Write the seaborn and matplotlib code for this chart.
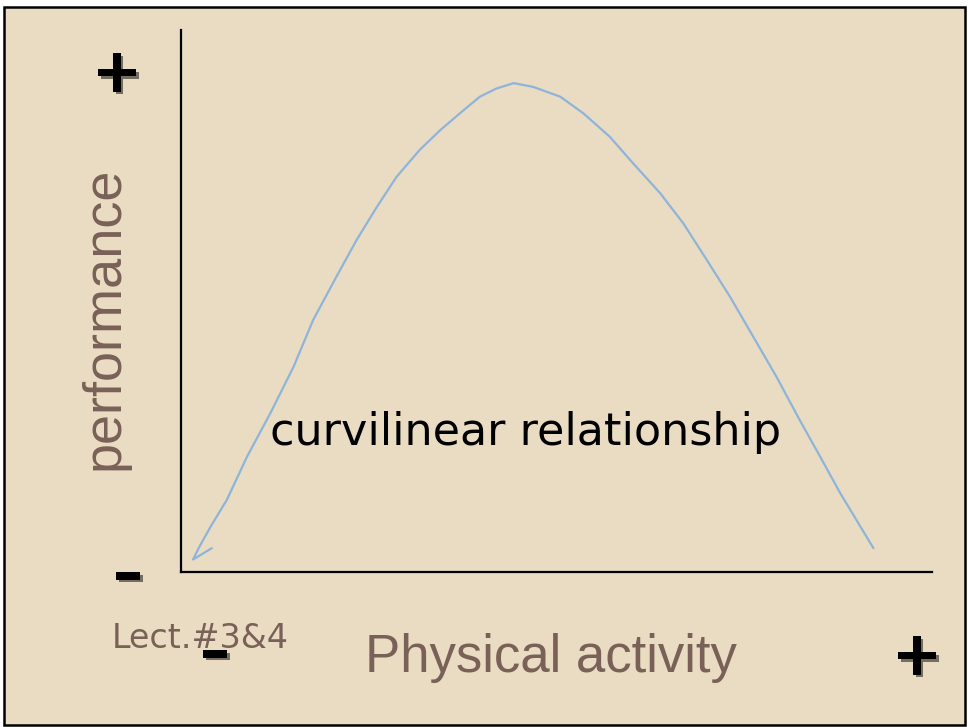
import matplotlib
matplotlib.use("Agg")
import matplotlib.pyplot as plt
import matplotlib.patheffects as pe
from matplotlib.patches import Rectangle
import seaborn as sns

# hand-drawn curve (activity 0-100, performance 0-100)
activity = [4.1, 1.6, 2.5, 4.0, 6.1, 8.8, 11.9, 15.0, 17.6, 20.7, 23.4,
            26.1, 28.7, 31.8, 34.5, 37.2, 39.8, 42.0, 44.3, 46.9, 50.5,
            53.6, 57.1, 60.2, 63.8, 66.9, 70.0, 73.1, 76.2, 79.3, 82.4,
            85.1, 87.8, 92.2]
performance = [4.4, 2.3, 4.8, 8.5, 13.3, 21.3, 29.3, 37.9, 46.5, 54.5, 61.3,
               67.4, 72.9, 77.9, 81.5, 84.7, 87.7, 89.2, 90.2, 89.5, 87.7,
               84.6, 80.3, 75.4, 69.9, 64.3, 57.6, 50.8, 43.4, 36.0, 28.0,
               21.3, 14.5, 4.4]

x_label = "Physical activity"
y_label = "performance"
note = "curvilinear relationship"
footer = "Lect.#3&4"

W, H = 968, 727
bg = "#E9DCC3"
brown = "#7A6157"

sns.set_style("white")
fig = plt.figure(figsize=(W / 100, H / 100), dpi=100)
fig.patch.set_facecolor("white")


def fx(x):
    return x / W


def fy(y):
    return 1 - y / H


# slide frame
fig.patches.append(Rectangle((fx(4), fy(725)), fx(961), 718 / H,
                             transform=fig.transFigure, facecolor=bg,
                             edgecolor="black", linewidth=1.8, zorder=-5))

ax = fig.add_axes([fx(181), fy(572), fx(751), 542 / H])
ax.set_zorder(2)
ax.set_facecolor("none")
sns.lineplot(x=activity, y=performance, sort=False, estimator=None,
             color="#8FB4DA", linewidth=1.6, ax=ax)
ax.set_xlim(0, 100)
ax.set_ylim(0, 100)
ax.set_xticks([])
ax.set_yticks([])
for side in ["top", "right"]:
    ax.spines[side].set_visible(False)
for side in ["left", "bottom"]:
    ax.spines[side].set_color("black")
    ax.spines[side].set_linewidth(1.6)
    ax.spines[side].set_visible(True)

ax.text((526 - 181) / 751, (572 - 433) / 542, note, transform=ax.transAxes,
        ha="center", va="center", fontsize=32, color="black",
        family="DejaVu Sans")

fig.text(fx(105), fy(318), y_label, rotation=90, ha="center", va="center",
         fontsize=39, color=brown, family="Liberation Sans")
fig.text(fx(551), fy(658), x_label, ha="center", va="center",
         fontsize=38, color=brown, family="Liberation Sans")
fig.text(fx(200), fy(638), footer, ha="center", va="center",
         fontsize=24, color=brown, family="DejaVu Sans")

for (x, y, s) in [(117, 75, "+"), (917, 658, "+"), (128, 576, "\u2013"), (215, 654, "\u2013")]:
    fig.text(fx(x), fy(y), s, ha="center", va="center", fontsize=44,
             fontweight="bold", color="black", family="DejaVu Sans", zorder=5,
             path_effects=[pe.withSimplePatchShadow(offset=(2, -2), alpha=0.5)])

fig.savefig("out.png", dpi=100, facecolor=fig.get_facecolor())
